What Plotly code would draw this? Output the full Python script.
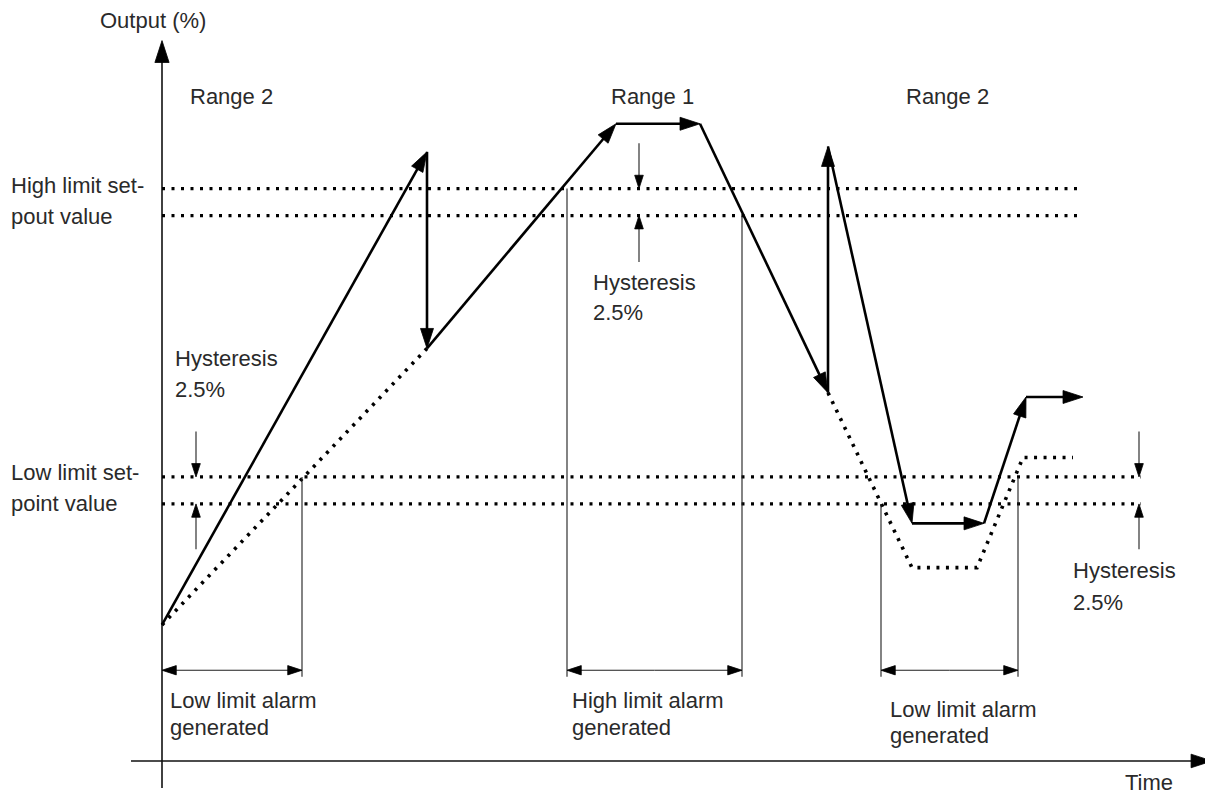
import plotly.graph_objects as go

# ---------------- data (time in s, output in %) ----------------
# Output trajectory (solid line, an arrowhead at every vertex)
out_t = [0.0, 26.5, 26.5, 45.4, 53.8, 66.6, 66.6, 75.0, 82.2, 86.4, 92.1]
out_v = [12.6, 56.4, 38.2, 59.0, 59.0, 34.1, 56.9, 22.0, 22.0, 33.7, 33.7]

# Dotted traces (value in the other range)
dot1_t = [0.0, 26.5]
dot1_v = [12.6, 38.2]
dot2_t = [66.6, 75.0, 81.5, 86.1, 91.1]
dot2_v = [34.1, 17.9, 17.9, 28.1, 28.1]

# Limit set-points (upper / lower edge of 2.5 % hysteresis band)
high_limit = [53.0, 50.5]
low_limit = [26.3, 23.8]
high_line_end = 91.7
low_line_end = 97.9

# Alarm windows (start, end) in time
alarm_low_1 = [0.0, 14.0]
alarm_high = [40.5, 58.0]
alarm_low_2 = [71.9, 85.6]
alarm_bottom = 7.8
alarm_dim = 8.4

# Hysteresis indicator positions (time) and tails (%)
hyst_t = [3.4, 47.7, 97.7]
hyst_tail_high = [57.2, 46.2]
hyst_tail_low = [30.5, 19.6]

# Axis extents
t_axis = [-3.1, 105.0]
v_axis = [-2.5, 66.7]
x_range = [-15.4, 105.1]
y_range = [-3.43, 69.72]

FONT = "Liberation Sans"
TXT = "#2a2a2a"
THIN = "#1e1e1e"

fig = go.Figure()


def add_path(xs, ys, width, color, head=0, heads="last", dash="solid"):
    n = len(xs)
    if heads == "all":
        sizes = [0] + [head] * (n - 1)
    elif heads == "last":
        sizes = [0] * (n - 1) + [head]
    else:
        sizes = [0] * n
    fig.add_trace(go.Scatter(
        x=xs, y=ys,
        mode="lines+markers" if head else "lines",
        line=dict(color=color, width=width, dash=dash),
        marker=dict(symbol="arrow", size=sizes, angleref="previous",
                    color="#000000", opacity=1,
                    line=dict(width=0.8, color="#000000")),
        hoverinfo="skip", showlegend=False, cliponaxis=False))


# axes (drawn as arrows)
add_path([0, 0], v_axis, 1.6, "#111111", head=23)
add_path(t_axis, [0, 0], 1.6, "#111111", head=22)

# limit lines (dotted)
for v in high_limit:
    add_path([0, high_line_end], [v, v], 3.2, "#000000", dash="3px,6.5px")
for v in low_limit:
    add_path([0, low_line_end], [v, v], 3.2, "#000000", dash="3px,6.5px")

# dotted process traces
add_path(dot1_t, dot1_v, 3.6, "#000000", dash="3px,6.5px")
add_path(dot2_t, dot2_v, 3.6, "#000000", dash="3px,6.5px")

# alarm window markers
add_path([alarm_low_1[1]] * 2, [low_limit[0], alarm_bottom], 1.1, THIN)
add_path([alarm_high[0]] * 2, [high_limit[0], alarm_bottom], 1.1, THIN)
add_path([alarm_high[1]] * 2, [high_limit[1], alarm_bottom], 1.1, THIN)
add_path([alarm_low_2[0]] * 2, [low_limit[1], alarm_bottom], 1.1, THIN)
add_path([alarm_low_2[1]] * 2, [low_limit[0], alarm_bottom], 1.1, THIN)
for a, b in (alarm_low_1, alarm_high, alarm_low_2):
    mid = (a + b) / 2
    add_path([mid, a], [alarm_dim] * 2, 1.1, THIN, head=15)
    add_path([mid, b], [alarm_dim] * 2, 1.1, THIN, head=15)

# hysteresis indicators
add_path([hyst_t[0]] * 2, [hyst_tail_low[0], low_limit[0]], 1.1, THIN, head=14)
add_path([hyst_t[0]] * 2, [hyst_tail_low[1], low_limit[1]], 1.1, THIN, head=14)
add_path([hyst_t[1]] * 2, [hyst_tail_high[0], high_limit[0]], 1.1, THIN, head=14)
add_path([hyst_t[1]] * 2, [hyst_tail_high[1], high_limit[1]], 1.1, THIN, head=14)
add_path([hyst_t[2]] * 2, [hyst_tail_low[0], low_limit[0]], 1.1, THIN, head=14)
add_path([hyst_t[2]] * 2, [hyst_tail_low[1], low_limit[1]], 1.1, THIN, head=14)

# output trajectory
add_path(out_t, out_v, 2.6, "#000000", head=21, heads="all")

# ---------------- text ----------------
labels = [
    ("Output (%)", -6.4, 68.6),
    ("Range 2", 2.6, 61.5),
    ("Range 1", 44.7, 61.5),
    ("Range 2", 74.2, 61.5),
    ("High limit set-", -15.3, 53.3),
    ("pout value", -15.3, 50.4),
    ("Low limit set-", -15.3, 26.7),
    ("point value", -15.3, 23.8),
    ("Hysteresis", 1.1, 37.3),
    ("2.5%", 1.1, 34.4),
    ("Hysteresis", 42.9, 44.3),
    ("2.5%", 42.9, 41.5),
    ("Hysteresis", 90.9, 17.6),
    ("2.5%", 90.9, 14.7),
    ("Low limit alarm", 0.6, 5.6),
    ("generated", 0.6, 3.1),
    ("High limit alarm", 40.8, 5.6),
    ("generated", 40.8, 3.1),
    ("Low limit alarm", 72.6, 4.8),
    ("generated", 72.6, 2.4),
    ("Time", 96.1, -2.0),
]
for txt, x, y in labels:
    fig.add_annotation(x=x, y=y, text=txt, showarrow=False, xanchor="left",
                       yanchor="middle", xref="x", yref="y",
                       font=dict(family=FONT, size=22, color=TXT))

fig.update_layout(
    width=1205, height=790,
    margin=dict(l=0, r=0, t=0, b=0),
    paper_bgcolor="white", plot_bgcolor="white",
    xaxis=dict(range=x_range, visible=False, fixedrange=True),
    yaxis=dict(range=y_range, visible=False, fixedrange=True),
    showlegend=False,
)

fig.write_html("out.html")
